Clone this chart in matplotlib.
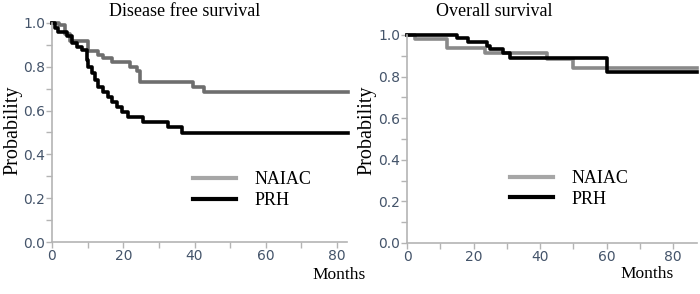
import matplotlib.pyplot as plt
from matplotlib.lines import Line2D
from matplotlib.ticker import MultipleLocator

# Kaplan-Meier step data (months, probability)
dfs_naiac_t = [0, 2, 3.6, 5, 10, 13, 14.3, 16.8, 21.9, 23.9, 24.7, 39.6, 42.7, 83]
dfs_naiac_p = [1.0, 0.99, 0.95, 0.92, 0.87, 0.855, 0.84, 0.82, 0.80, 0.78, 0.73, 0.71, 0.685, 0.685]

dfs_prh_t = [0, 0.8, 1.7, 4.2, 5.6, 7, 8.4, 9.8, 10.1, 11.2, 12.1, 12.9, 14.3, 15.7,
             16.8, 18.2, 19.6, 21.3, 25.5, 32.6, 36.5, 83]
dfs_prh_p = [1.0, 0.975, 0.96, 0.94, 0.91, 0.89, 0.877, 0.83, 0.80, 0.77, 0.74, 0.71,
             0.685, 0.66, 0.64, 0.616, 0.594, 0.57, 0.548, 0.525, 0.497, 0.497]

os_naiac_t = [0, 2.4, 12, 23.5, 42, 50, 87.2]
os_naiac_p = [1.0, 0.98, 0.937, 0.913, 0.885, 0.84, 0.84]

os_prh_t = [0, 15, 18.4, 24, 25, 29, 31, 60, 87.2]
os_prh_p = [1.0, 0.986, 0.966, 0.947, 0.933, 0.913, 0.89, 0.822, 0.822]

titles = ['Disease free survival', 'Overall survival']
groups = ['NAIAC', 'PRH']

serif = 'Liberation Serif'
tick_col = '#44546a'
spine_col = '#b4b4b4'

fig = plt.figure(figsize=(7, 2.94), dpi=100)
ax1 = fig.add_axes([52 / 700, 1 - 242 / 294, 295 / 700, 219 / 294])
ax2 = fig.add_axes([407 / 700, 1 - 243 / 294, 290 / 700, 208 / 294])

panels = [
    (ax1, dfs_naiac_t, dfs_naiac_p, dfs_prh_t, dfs_prh_p, 82.8, '#6e6e6e', (0.478, 0.237)),
    (ax2, os_naiac_t, os_naiac_p, os_prh_t, os_prh_p, 87.2, '#8a8a8a', (0.355, 0.26)),
]

for ax, nt, np_, pt, pp, xmax, gcol, anchor in panels:
    ax.step(nt, np_, where='post', color=gcol, lw=2.6, clip_on=False)
    ax.step(pt, pp, where='post', color='black', lw=2.6, clip_on=False)
    ax.set_xlim(0, xmax)
    ax.set_ylim(0, 1.0)
    ax.xaxis.set_major_locator(MultipleLocator(20))
    ax.xaxis.set_minor_locator(MultipleLocator(10))
    ax.yaxis.set_major_locator(MultipleLocator(0.2))
    ax.yaxis.set_minor_locator(MultipleLocator(0.1))
    ax.yaxis.set_major_formatter(lambda v, pos: f'{v:.1f}')
    for s in ['top', 'right']:
        ax.spines[s].set_visible(False)
    for s in ['left', 'bottom']:
        ax.spines[s].set_color(spine_col)
        ax.spines[s].set_linewidth(1.2)
    ax.tick_params(which='both', color=spine_col, labelcolor=tick_col, labelsize=10,
                   length=4, width=1, pad=1)
    handles = [Line2D([], [], color='#a6a6a6', lw=3),
               Line2D([], [], color='black', lw=3)]
    ax.legend(handles, groups, loc='center left', bbox_to_anchor=anchor, frameon=False,
              prop={'family': serif, 'size': 13}, handlelength=2.4, handletextpad=1.0,
              labelspacing=0.2, borderpad=0, borderaxespad=0)

fig.text(185 / 700, 1 - 11 / 294, titles[0], family=serif, fontsize=13, ha='center', va='center')
fig.text(494 / 700, 1 - 12 / 294, titles[1], family=serif, fontsize=13, ha='center', va='center')
fig.text(13 / 700, 1 - 130 / 294, 'Probability', family=serif, fontsize=14.5, rotation=90,
         ha='center', va='center')
fig.text(367 / 700, 1 - 130 / 294, 'Probability', family=serif, fontsize=14.5, rotation=90,
         ha='center', va='center')
fig.text(312 / 700, 1 - 275 / 294, 'Months', family=serif, fontsize=12.5, ha='left', va='center')
fig.text(620 / 700, 1 - 274 / 294, 'Months', family=serif, fontsize=12.5, ha='left', va='center')

fig.savefig('out.png', dpi=100)
